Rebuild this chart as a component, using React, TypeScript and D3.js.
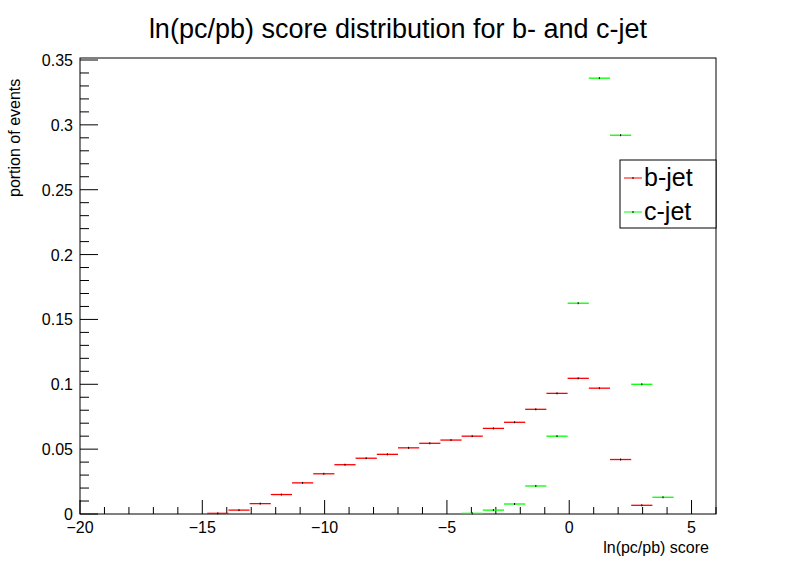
import React from "react";
import * as d3 from "d3";

const binLo = -20;
const binHi = 6;
const nBins = 30;
const bValues = [0,0,0,0,0,0,0.0005,0.003,0.008,0.015,0.024,0.031,0.038,0.043,0.046,0.051,0.0545,0.057,0.060,0.066,0.0707,0.0807,0.093,0.1046,0.097,0.042,0.0067,0,0,0];
const cValues = [0,0,0,0,0,0,0,0,0,0,0,0,0,0,0,0,0,0,0.0005,0.003,0.0077,0.0216,0.060,0.1625,0.336,0.292,0.100,0.0129,0,0];
const xTicks = [-20,-15,-10,-5,0,5];
const yTicks = [0,0.05,0.1,0.15,0.2,0.25,0.3,0.35];

const L = 80, R = 716, T = 58, B = 514;

export default function App() {
  const x = d3.scaleLinear().domain([binLo, binHi]).range([L, R]);
  const y = d3.scaleLinear().domain([0, 0.35]).range([B, 60]);
  const w = (binHi - binLo) / nBins;
  const font = "Liberation Sans, Arial, sans-serif";
  const xMinor = d3.range(-20, 6.01, 1);
  const yMinor = d3.range(0, 0.3501, 0.01);
  const series = [
    { vals: bValues, color: "#ff0000" },
    { vals: cValues, color: "#00ff00" },
  ];
  return (
    <svg width={796} height={572} style={{ position: "absolute", left: 0, top: 0 }}>
      <rect width={796} height={572} fill="white" />
      <text x={398} y={38} textAnchor="middle" fontFamily={font} fontSize={27}>ln(pc/pb) score distribution for b- and c-jet</text>
      <rect x={L} y={T} width={R - L} height={B - T} fill="none" stroke="black" strokeWidth={1} />
      {xMinor.map((t) => {
        const major = xTicks.includes(Math.round(t));
        return <line key={"xm" + t} x1={x(t)} x2={x(t)} y1={B} y2={B - (major ? 14 : 7)} stroke="black" />;
      })}
      {xTicks.map((t) => (
        <text key={"xt" + t} x={x(t)} y={533} textAnchor="middle" fontFamily={font} fontSize={16}>{t < 0 ? "\u2212" + Math.abs(t) : t}</text>
      ))}
      {yMinor.map((t, i) => {
        const major = i % 5 === 0;
        return <line key={"ym" + i} x1={L} x2={L + (major ? 18 : 9)} y1={y(t)} y2={y(t)} stroke="black" />;
      })}
      {yTicks.map((t) => (
        <text key={"yt" + t} x={73} y={y(t) + 6} textAnchor="end" fontFamily={font} fontSize={16}>{t === 0 ? "0" : String(t)}</text>
      ))}
      <text x={709} y={553} textAnchor="end" fontFamily={font} fontSize={16}>ln(pc/pb) score</text>
      <text transform="translate(20,197) rotate(-90)" textAnchor="start" fontFamily={font} fontSize={16}>portion of events</text>
      {series.map((s, si) =>
        s.vals.map((v, i) => {
          if (v <= 0) return null;
          const x0 = x(binLo + i * w), x1 = x(binLo + (i + 1) * w), yc = y(v);
          const xc = (x0 + x1) / 2;
          return (
            <g key={si + "-" + i}>
              <line x1={x0} x2={x1} y1={yc} y2={yc} stroke={s.color} strokeWidth={1.3} />
              <line x1={xc} x2={xc} y1={yc - 1} y2={yc + 1} stroke="black" strokeWidth={1} />
            </g>
          );
        })
      )}
      <rect x={620} y={160} width={96} height={68} fill="white" stroke="black" />
      {series.map((s, i) => (
        <g key={"lg" + i}>
          <line x1={624} x2={642} y1={178 + i * 34} y2={178 + i * 34} stroke={s.color} />
          <line x1={633} x2={633} y1={177 + i * 34} y2={179 + i * 34} stroke="black" />
          <text x={644} y={186 + i * 34} fontFamily={font} fontSize={25}>{i === 0 ? "b-jet" : "c-jet"}</text>
        </g>
      ))}
    </svg>
  );
}
